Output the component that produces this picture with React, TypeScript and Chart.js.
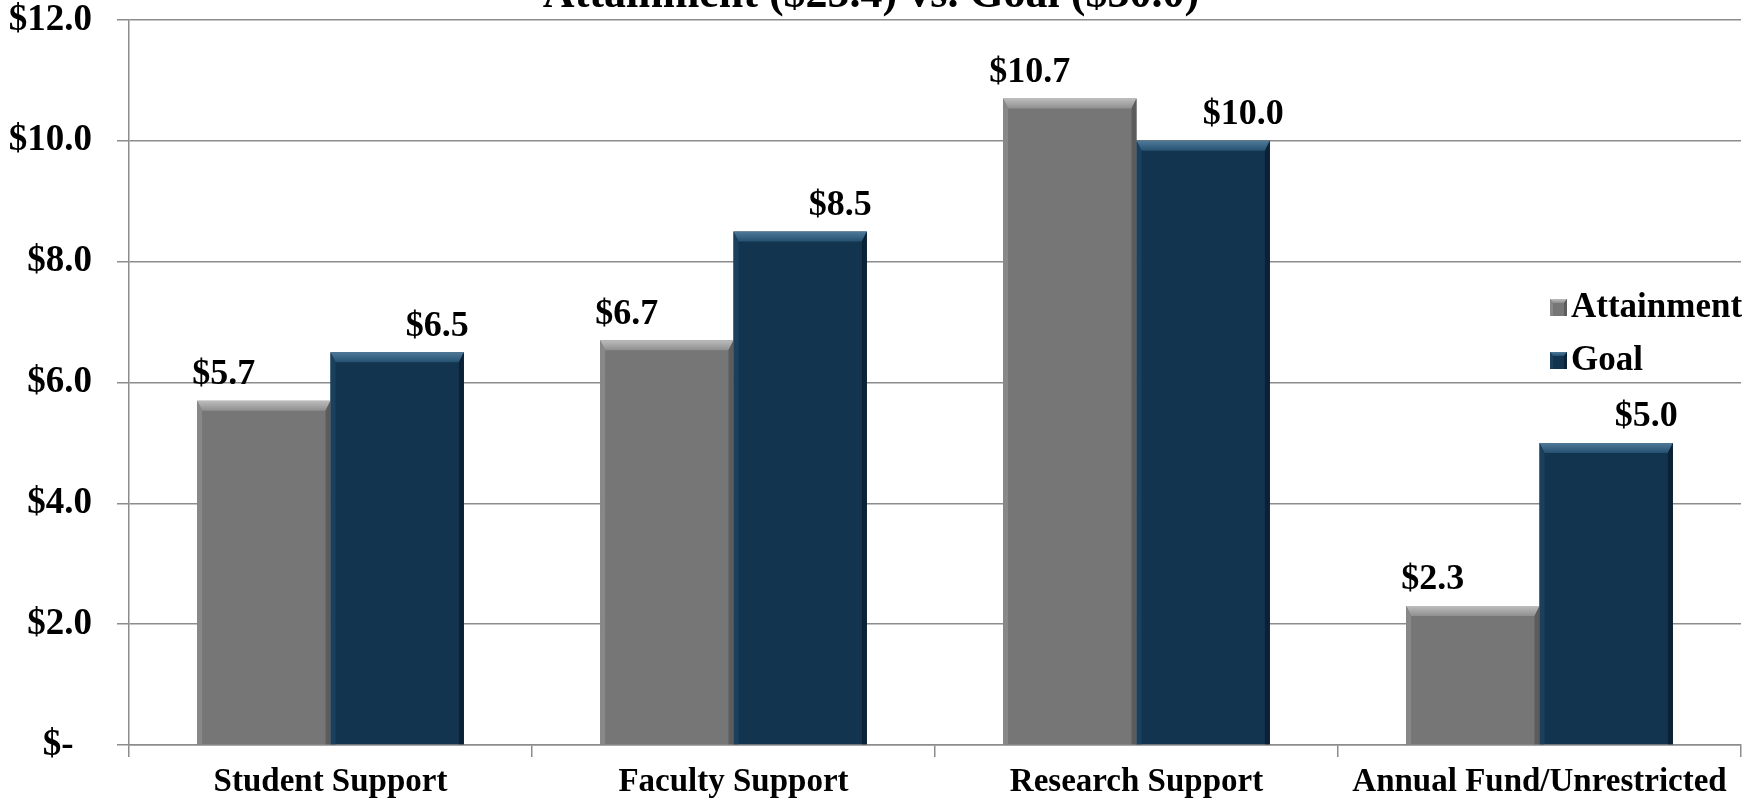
import React, { useEffect, useRef } from "react";
import { Chart, registerables } from "chart.js";

Chart.register(...registerables);

const titleText = "Attainment ($25.4) vs. Goal ($30.0)";
const categories = ["Student Support", "Faculty Support", "Research Support", "Annual Fund/Unrestricted"];
const seriesNames = ["Attainment", "Goal"];
const attainment = [5.7, 6.7, 10.7, 2.3];
const goal = [6.5, 8.5, 10.0, 5.0];
const yMin = 0;
const yMax = 12;
const yStep = 2;

const FONT = '"Liberation Serif", "Times New Roman", serif';
const GRID = "#8c8c8c";
const palette = [
  { body: "#767676", top1: "#bdbdbd", top2: "#8f8f8f", left: "#888888", right: "#5c5c5c" },
  { body: "#12344f", top1: "#4f7999", top2: "#255170", left: "#1a405e", right: "#0b2236" },
];

function bevelRect(ctx: CanvasRenderingContext2D, l: number, t: number, r: number, b: number, p: any, bt: number, bs: number) {
  ctx.save();
  const g = ctx.createLinearGradient(0, t, 0, t + bt);
  g.addColorStop(0, p.top1);
  g.addColorStop(1, p.top2);
  ctx.fillStyle = g;
  ctx.beginPath();
  ctx.moveTo(l, t);
  ctx.lineTo(r, t);
  ctx.lineTo(r - bs, t + bt);
  ctx.lineTo(l + bs, t + bt);
  ctx.closePath();
  ctx.fill();
  ctx.fillStyle = p.left;
  ctx.beginPath();
  ctx.moveTo(l, t);
  ctx.lineTo(l + bs, t + bt);
  ctx.lineTo(l + bs, b);
  ctx.lineTo(l, b);
  ctx.closePath();
  ctx.fill();
  ctx.fillStyle = p.right;
  ctx.beginPath();
  ctx.moveTo(r, t);
  ctx.lineTo(r - bs, t + bt);
  ctx.lineTo(r - bs, b);
  ctx.lineTo(r, b);
  ctx.closePath();
  ctx.fill();
  ctx.restore();
}

const bevelPlugin = {
  id: "bevel",
  afterDatasetsDraw(chart: any) {
    const ctx = chart.ctx;
    chart.data.datasets.forEach((_: any, di: number) => {
      const meta = chart.getDatasetMeta(di);
      meta.data.forEach((el: any) => {
        const { x, y, base, width } = el.getProps(["x", "y", "base", "width"], true);
        bevelRect(ctx, x - width / 2, y, x + width / 2, base, palette[di], 10, 5);
      });
    });
  },
};

const labelPlugin = {
  id: "valueLabels",
  afterDatasetsDraw(chart: any) {
    const ctx = chart.ctx;
    ctx.save();
    ctx.font = `bold 36px ${FONT}`;
    ctx.fillStyle = "#000";
    ctx.textAlign = "center";
    ctx.textBaseline = "middle";
    const shifts = [-0.3, 0.3];
    chart.data.datasets.forEach((ds: any, di: number) => {
      const meta = chart.getDatasetMeta(di);
      meta.data.forEach((el: any, i: number) => {
        const { x, y, width } = el.getProps(["x", "y", "width"], true);
        ctx.fillText("$" + Number(ds.data[i]).toFixed(1), x + shifts[di] * width, y - 26);
      });
    });
    ctx.restore();
  },
};

const legendPlugin = {
  id: "customLegend",
  afterDraw(chart: any) {
    const ctx = chart.ctx;
    const ca = chart.chartArea;
    ctx.save();
    ctx.font = `bold 35px ${FONT}`;
    ctx.textAlign = "left";
    ctx.textBaseline = "middle";
    seriesNames.forEach((name, i) => {
      const cy = ca.top + 287 + i * 53;
      const bx = ca.right - 191;
      ctx.fillStyle = palette[i].body;
      ctx.fillRect(bx, cy - 8, 17, 17);
      bevelRect(ctx, bx, cy - 8, bx + 17, cy + 9, palette[i], 4, 3);
      ctx.fillStyle = "#000";
      ctx.fillText(name, bx + 21, cy + 1);
    });
    ctx.restore();
  },
};

const titlePlugin = {
  id: "cutTitle",
  afterDraw(chart: any) {
    const ctx = chart.ctx;
    ctx.save();
    ctx.font = `bold 44px ${FONT}`;
    ctx.fillStyle = "#000";
    ctx.textAlign = "center";
    ctx.textBaseline = "alphabetic";
    ctx.fillText(titleText, chart.width / 2 - 11, 7);
    ctx.restore();
  },
};

export default function App() {
  const ref = useRef<HTMLCanvasElement>(null);
  useEffect(() => {
    document.body.style.margin = "0";
    const canvas = ref.current!;
    const chart = new Chart(canvas, {
      type: "bar",
      data: {
        labels: categories,
        datasets: [
          { label: seriesNames[0], data: attainment, backgroundColor: palette[0].body, borderWidth: 0, categoryPercentage: 0.662, barPercentage: 1 },
          { label: seriesNames[1], data: goal, backgroundColor: palette[1].body, borderWidth: 0, categoryPercentage: 0.662, barPercentage: 1 },
        ],
      },
      options: {
        responsive: false,
        animation: false,
        devicePixelRatio: 1,
        layout: { padding: { top: 20, right: 23, left: 0, bottom: 0 } },
        plugins: { legend: { display: false }, title: { display: false }, tooltip: { enabled: false } },
        scales: {
          x: {
            grid: { display: true, drawOnChartArea: false, drawTicks: true, tickLength: 12, color: GRID, lineWidth: 1.5, offset: true },
            border: { display: true, color: GRID, width: 1.5 },
            ticks: { font: { family: FONT, size: 33, weight: "bold" }, color: "#000", padding: 6, maxRotation: 0, autoSkip: false },
            afterFit: (s: any) => { s.height = 57; s.paddingLeft = 0; s.paddingRight = 0; },
          },
          y: {
            min: yMin,
            max: yMax,
            grid: { color: GRID, lineWidth: 1.5, tickLength: 12 },
            border: { display: true, color: GRID, width: 1.5 },
            ticks: {
              stepSize: yStep,
              font: { family: FONT, size: 37, weight: "bold" },
              color: "#000",
              padding: 25,
              callback: (v: any) => (Number(v) === 0 ? "$-  " : "$" + Number(v).toFixed(1)),
            },
            afterFit: (s: any) => { s.width = 129; s.paddingTop = 0; s.paddingBottom = 0; },
          },
        },
      } as any,
      plugins: [bevelPlugin, labelPlugin, legendPlugin, titlePlugin],
    });
    return () => chart.destroy();
  }, []);
  return <canvas ref={ref} width={1764} height={802} style={{ display: "block", width: 1764, height: 802 }} />;
}
